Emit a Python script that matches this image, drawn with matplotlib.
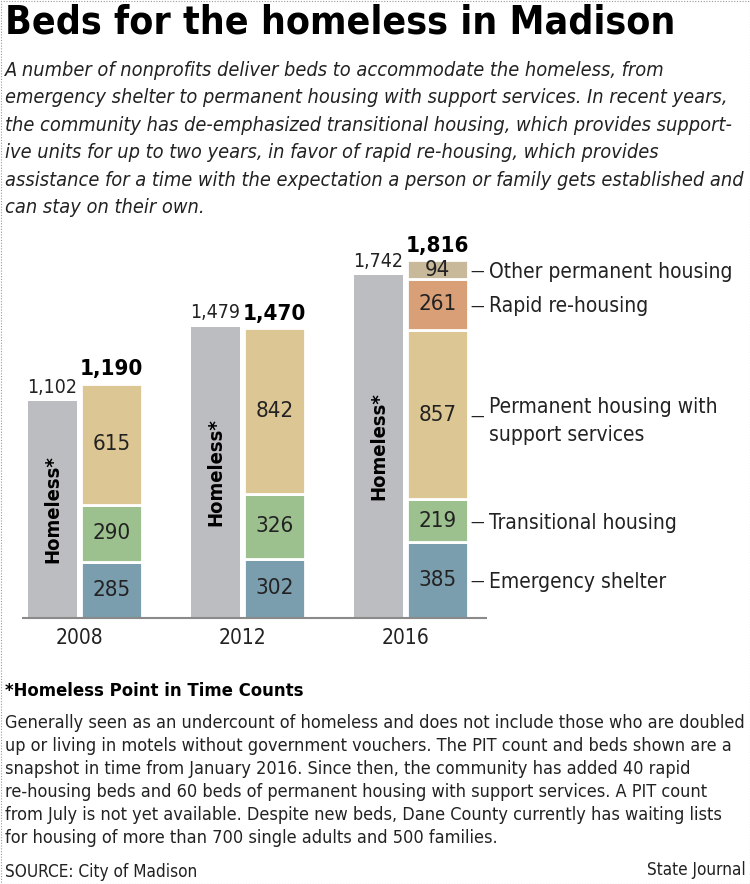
import numpy as np
import matplotlib
matplotlib.use('Agg')
import matplotlib.pyplot as plt
from matplotlib import font_manager as fm
from matplotlib.patches import Rectangle

# data
years = ['2008', '2012', '2016']
homeless = [1102, 1479, 1742]
emergency = [285, 302, 385]
transitional = [290, 326, 219]
permanent_support = [615, 842, 857]
rapid_rehousing = [0, 0, 261]
other_permanent = [0, 0, 94]
bed_totals = [1190, 1470, 1816]

layer_names = ['Emergency shelter', 'Transitional housing',
               'Permanent housing with\nsupport services',
               'Rapid re-housing', 'Other permanent housing']
layer_values = [emergency, transitional, permanent_support,
                rapid_rehousing, other_permanent]
layer_colors = ['#7a9eae', '#9cc18f', '#dcc693', '#d9a078', '#c8b99a']
GRAY = '#bcbdc1'

subtitle = [
    'A number of nonprofits deliver beds to accommodate the homeless, from',
    'emergency shelter to permanent housing with support services. In recent years,',
    'the community has de-emphasized transitional housing, which provides support-',
    'ive units for up to two years, in favor of rapid re-housing, which provides',
    'assistance for a time with the expectation a person or family gets established and',
    'can stay on their own.',
]
note_head = '*Homeless Point in Time Counts'
note = [
    'Generally seen as an undercount of homeless and does not include those who are doubled',
    'up or living in motels without government vouchers. The PIT count and beds shown are a',
    'snapshot in time from January 2016. Since then, the community has added 40 rapid',
    're-housing beds and 60 beds of permanent housing with support services. A PIT count',
    'from July is not yet available. Despite new beds, Dane County currently has waiting lists',
    'for housing of more than 700 single adults and 500 families.',
]


def has_font(name):
    try:
        fm.findfont(fm.FontProperties(family=name), fallback_to_default=False)
        return True
    except ValueError:
        return False


FONT = 'Liberation Sans Narrow' if has_font('Liberation Sans Narrow') else 'DejaVu Sans'
plt.rcParams['font.family'] = [FONT, 'DejaVu Sans']
plt.rcParams['font.stretch'] = 'condensed'

W, H = 750, 884
fig = plt.figure(figsize=(W / 100, H / 100), dpi=100)
fig.patch.set_facecolor('white')
renderer = fig.canvas.get_renderer()


def P(x, y):
    return x / W, 1 - y / H


def fit(text, width, **kw):
    t = fig.text(0, 0, text, fontsize=10, **kw)
    w = t.get_window_extent(renderer).width
    t.remove()
    return 10 * width / w


# title + intro
ts = fit('Beds for the homeless in Madison', 668, fontweight='bold')
fig.text(*P(5, 22), 'Beds for the homeless in Madison', fontsize=ts,
         fontweight='bold', va='center', color='black')
ss = fit(subtitle[4], 735, style='italic')
for i, line in enumerate(subtitle):
    fig.text(*P(5, 70.5 + 27.4 * i), line, fontsize=ss, style='italic',
             va='center', color='#222222')

# chart
px_per_unit = 0.197
base_px, top_px = 618, 230
ax = fig.add_axes([0, 1 - base_px / H, 1, (base_px - top_px) / H])
ax.set_xlim(-79.5 / 163, (W - 79.5) / 163)
ax.set_ylim(0, (base_px - top_px) / px_per_unit)
ax.axis('off')

x = np.arange(len(years))
gx = x - 0.165
sx = x + 0.197
ax.bar(gx, homeless, width=0.297, color=GRAY, edgecolor='none')
for i, h in enumerate(homeless):
    ax.text(gx[i], h / 2, 'Homeless*', rotation=90, ha='center', va='center',
            fontsize=14.5, fontweight='bold', color='black')
    ax.annotate(f'{h:,}', (gx[i], h), xytext=(0, 3), textcoords='offset points',
                ha='center', va='bottom', fontsize=14, color='#222222')

bottom = np.zeros(len(years))
for vals, name, col in zip(layer_values, layer_names, layer_colors):
    vals = np.array(vals, dtype=float)
    keep = vals > 0
    ax.bar(sx[keep], vals[keep], width=0.375, bottom=bottom[keep], color=col,
           edgecolor='white', linewidth=2)
    for i in np.where(keep)[0]:
        ax.text(sx[i], bottom[i] + vals[i] / 2, f'{int(vals[i])}', ha='center',
                va='center', fontsize=16, color='#222222')
    last = len(years) - 1
    ymid = bottom[last] + vals[last] / 2
    ax.annotate('—', (sx[last] + 0.187, ymid), xytext=(2, 0),
                textcoords='offset points', ha='left', va='center_baseline',
                fontsize=11, color='#222222')
    ax.annotate(name, (sx[last] + 0.187, ymid), xytext=(15, 0),
                textcoords='offset points', ha='left', va='center_baseline',
                fontsize=15, color='#222222', linespacing=1.5)
    bottom += vals

for i, t in enumerate(bed_totals):
    ax.annotate(f'{t:,}', (sx[i], t), xytext=(0, 3), textcoords='offset points',
                ha='center', va='bottom', fontsize=16, fontweight='bold',
                color='black')

ax.plot([x[0] - 0.35, x[-1] + 0.5], [0, 0], color='#8a8a8a', lw=1.5,
        solid_capstyle='butt', clip_on=False, zorder=5)
for i, yr in enumerate(years):
    ax.annotate(yr, (x[i], 0), xytext=(0, -7), textcoords='offset points',
                ha='center', va='top', fontsize=15, color='#222222')

# footnote
ns = fit(note[0], 740)
fig.text(*P(5, 691), note_head, fontsize=ns * 1.02, fontweight='bold',
         va='center', color='black')
for i, line in enumerate(note):
    fig.text(*P(5, 723 + 23 * i), line, fontsize=ns, va='center',
             color='#222222')
fig.text(*P(5, 872), 'SOURCE: City of Madison', fontsize=ns * 0.95,
         va='center', color='#222222')
fig.text(*P(746, 870), 'State Journal', fontsize=ns * 0.95, va='center',
         ha='right', color='#222222')

fig.add_artist(Rectangle((0.5 / W, 0.5 / H), (W - 1) / W, (H - 1) / H,
                         transform=fig.transFigure, fill=False,
                         ec='#9a9a9a', lw=0.8, ls=(0, (1, 1.5))))

fig.savefig('out.png', dpi=100, facecolor='white')
